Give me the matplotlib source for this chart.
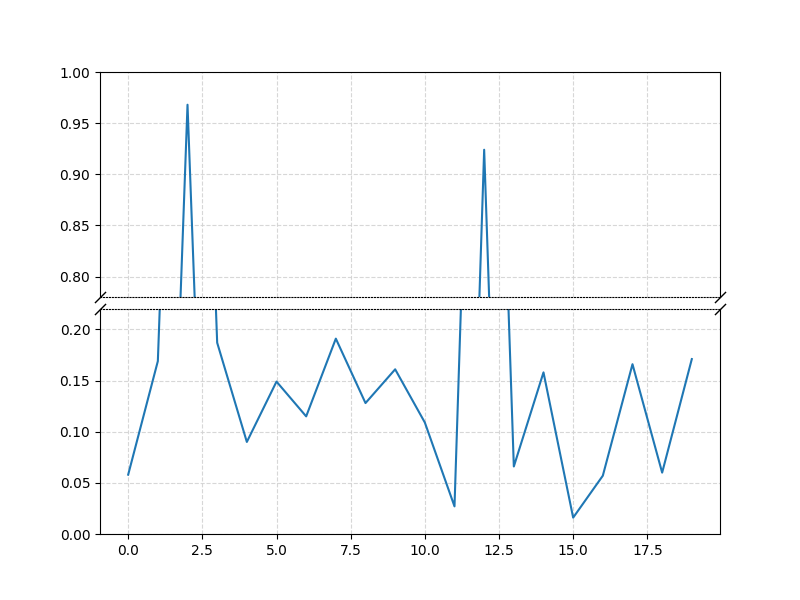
import numpy as np
import matplotlib
matplotlib.use("Agg")
import matplotlib.pyplot as plt

x = np.arange(20)
y = [0.058, 0.169, 0.968, 0.187, 0.090, 0.149, 0.115, 0.191, 0.128, 0.161,
     0.109, 0.027, 0.924, 0.066, 0.158, 0.016, 0.057, 0.166, 0.060, 0.171]

fig, (ax1, ax2) = plt.subplots(2, 1, sharex=True, figsize=(8, 6))
fig.subplots_adjust(hspace=0.053)

for ax in (ax1, ax2):
    ax.plot(x, y)
    ax.grid(True, linestyle="--", color="lightgray", alpha=0.9)

ax1.set_ylim(0.78, 1.0)
ax2.set_ylim(0, 0.22)

ax1.spines["bottom"].set_linestyle(":")
ax2.spines["top"].set_linestyle(":")
ax1.tick_params(axis="x", which="both", bottom=False, labelbottom=False)

# slanted break marks
d = 1
kw = dict(marker=[(-1, -d), (1, d)], markersize=8, linestyle="none",
          color="k", mec="k", mew=1, clip_on=False)
ax1.plot([0, 1], [0, 0], transform=ax1.transAxes, **kw)
ax2.plot([0, 1], [1, 1], transform=ax2.transAxes, **kw)

plt.savefig("out.png", dpi=100)
